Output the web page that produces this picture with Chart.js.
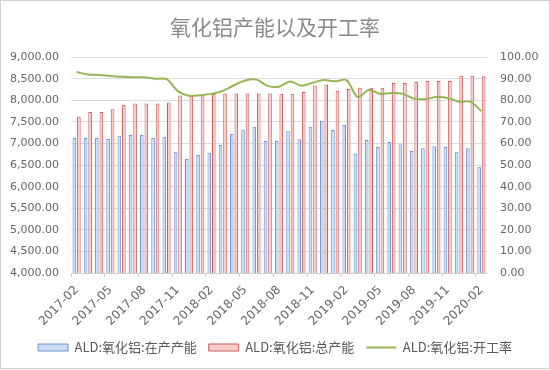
<!DOCTYPE html>
<html>
<head>
<meta charset="utf-8">
<script src="https://cdn.jsdelivr.net/npm/chart.js@4.4.1/dist/chart.umd.min.js"></script>
<style>
  html, body { margin: 0; padding: 0; background: #ffffff; }
  #wrap { width: 550px; height: 370px; position: relative; }
</style>
</head>
<body>
<div id="wrap"><canvas id="c" width="550" height="370"></canvas></div>
<script>
const categories = [
  '2017-02','2017-03','2017-04','2017-05','2017-06','2017-07','2017-08','2017-09','2017-10','2017-11','2017-12',
  '2018-01','2018-02','2018-03','2018-04','2018-05','2018-06','2018-07','2018-08','2018-09','2018-10','2018-11','2018-12',
  '2019-01','2019-02','2019-03','2019-04','2019-05','2019-06','2019-07','2019-08','2019-09','2019-10','2019-11','2019-12',
  '2020-01','2020-02'
];
const shownTickLabels = ['2017-02','2017-05','2017-08','2017-11','2018-02','2018-05','2018-08','2018-11','2019-02','2019-05','2019-08','2019-11','2020-02'];

const runningCapacity = [
  7130, 7130, 7130, 7107, 7178, 7200, 7200, 7130, 7154, 6810, 6640,
  6734, 6788, 6965, 7220, 7320, 7388, 7060, 7060, 7283, 7100, 7388, 7528,
  7315, 7427, 6765, 7084, 6920, 7037, 6983, 6827, 6890, 6937, 6920, 6810,
  6890, 6460
];
const totalCapacity = [
  7622, 7730, 7730, 7792, 7900, 7925, 7925, 7925, 7950, 8110, 8110,
  8120, 8150, 8160, 8160, 8160, 8160, 8160, 8155, 8155, 8195, 8342, 8370,
  8220, 8265, 8290, 8290, 8290, 8400, 8400, 8423, 8447, 8447, 8447, 8572,
  8572, 8556
];
const operatingRate = [
  93.1, 92.0, 91.8, 91.3, 90.9, 90.7, 90.7, 90.0, 89.8, 84.3, 82.1,
  82.4, 83.0, 84.4, 87.0, 89.2, 89.6, 86.7, 86.3, 88.7, 86.8, 88.2, 89.4,
  88.8, 89.4, 81.5, 84.8, 83.0, 83.4, 83.0, 80.8, 80.6, 81.5, 81.1, 79.4,
  79.4, 75.0
];
const seriesNames = ['ALD:氧化铝:在产产能', 'ALD:氧化铝:总产能', 'ALD:氧化铝:开工率'];
const titleText = '氧化铝产能以及开工率';

const axisFont = { family: 'DejaVu Sans', size: 11 };
const axisColor = '#666666';

const frame = {
  id: 'frame',
  beforeDraw(chart) {
    const ctx = chart.ctx;
    ctx.save();
    ctx.fillStyle = '#ffffff';
    ctx.fillRect(0, 0, chart.width, chart.height);
    ctx.restore();
  },
  afterDraw(chart) {
    const ctx = chart.ctx;
    ctx.save();
    ctx.strokeStyle = '#d0d0d0';
    ctx.lineWidth = 1;
    ctx.strokeRect(0.5, 0.5, chart.width - 1, chart.height - 2);
    ctx.restore();
  }
};

new Chart(document.getElementById('c'), {
  type: 'bar',
  data: {
    labels: categories,
    datasets: [
      {
        label: seriesNames[0],
        data: runningCapacity,
        backgroundColor: '#cfddf3',
        borderColor: '#6d8fd0',
        borderWidth: 1,
        yAxisID: 'yL',
        categoryPercentage: 0.8,
        barPercentage: 0.8,
        order: 1
      },
      {
        label: seriesNames[1],
        data: totalCapacity,
        backgroundColor: '#f6cdcd',
        borderColor: '#cc5a5a',
        borderWidth: 1,
        yAxisID: 'yL',
        categoryPercentage: 0.8,
        barPercentage: 0.8,
        order: 1
      },
      {
        type: 'line',
        label: seriesNames[2],
        data: operatingRate,
        borderColor: '#98b556',
        backgroundColor: '#98b556',
        borderWidth: 2,
        pointRadius: 0,
        tension: 0.3,
        yAxisID: 'yR',
        order: 0
      }
    ]
  },
  options: {
    responsive: false,
    animation: false,
    layout: { padding: { top: 0, bottom: 6, left: 0, right: 0 } },
    plugins: {
      title: {
        display: true,
        text: titleText,
        color: '#8a8a8a',
        font: { family: 'Noto Sans CJK SC', size: 21, weight: 'normal' },
        padding: { top: 14, bottom: 18 }
      },
      legend: {
        position: 'bottom',
        labels: {
          color: '#595959',
          font: { family: 'Noto Sans CJK SC', size: 13 },
          usePointStyle: true,
          pointStyleWidth: 30,
          boxWidth: 30,
          boxHeight: 7,
          padding: 12,
          generateLabels(chart) {
            const items = Chart.defaults.plugins.legend.labels.generateLabels(chart);
            items.sort((a, b) => a.datasetIndex - b.datasetIndex);
            items.forEach(it => {
              if (it.datasetIndex === 2) { it.pointStyle = 'line'; it.lineWidth = 2; }
              else { it.pointStyle = 'rect'; it.lineWidth = 1; }
            });
            return items;
          }
        }
      },
      tooltip: { enabled: false }
    },
    scales: {
      x: {
        offset: true,
        grid: {
          display: true,
          offset: true,
          drawOnChartArea: false,
          drawTicks: true,
          tickLength: 4,
          color: (c) => (c.index % 3 === 0 ? '#d0d0d0' : 'rgba(0,0,0,0)')
        },
        border: { display: true, color: '#d0d0d0' },
        ticks: {
          autoSkip: false,
          maxRotation: 45,
          minRotation: 45,
          color: axisColor,
          font: { family: 'DejaVu Sans', size: 12 },
          padding: 6,
          callback(value, index) {
            const lab = categories[index];
            return shownTickLabels.includes(lab) ? lab : '';
          }
        },
        afterFit(scale) { scale.height = 56; }
      },
      yL: {
        type: 'linear',
        position: 'left',
        min: 4000,
        max: 9000,
        ticks: {
          stepSize: 500,
          color: axisColor,
          font: axisFont,
          padding: 12,
          callback: (v) => v.toLocaleString('en-US', { minimumFractionDigits: 2, maximumFractionDigits: 2 })
        },
        grid: { color: '#dcdcdc', drawTicks: false },
        border: { display: false },
        afterFit(scale) { scale.width = 71; }
      },
      yR: {
        type: 'linear',
        position: 'right',
        min: 0,
        max: 100,
        ticks: {
          stepSize: 10,
          color: axisColor,
          font: axisFont,
          padding: 13,
          callback: (v) => v.toFixed(2)
        },
        grid: { drawOnChartArea: false, drawTicks: false },
        border: { display: false },
        afterFit(scale) { scale.width = 63; }
      }
    }
  },
  plugins: [frame]
});
</script>
</body>
</html>
